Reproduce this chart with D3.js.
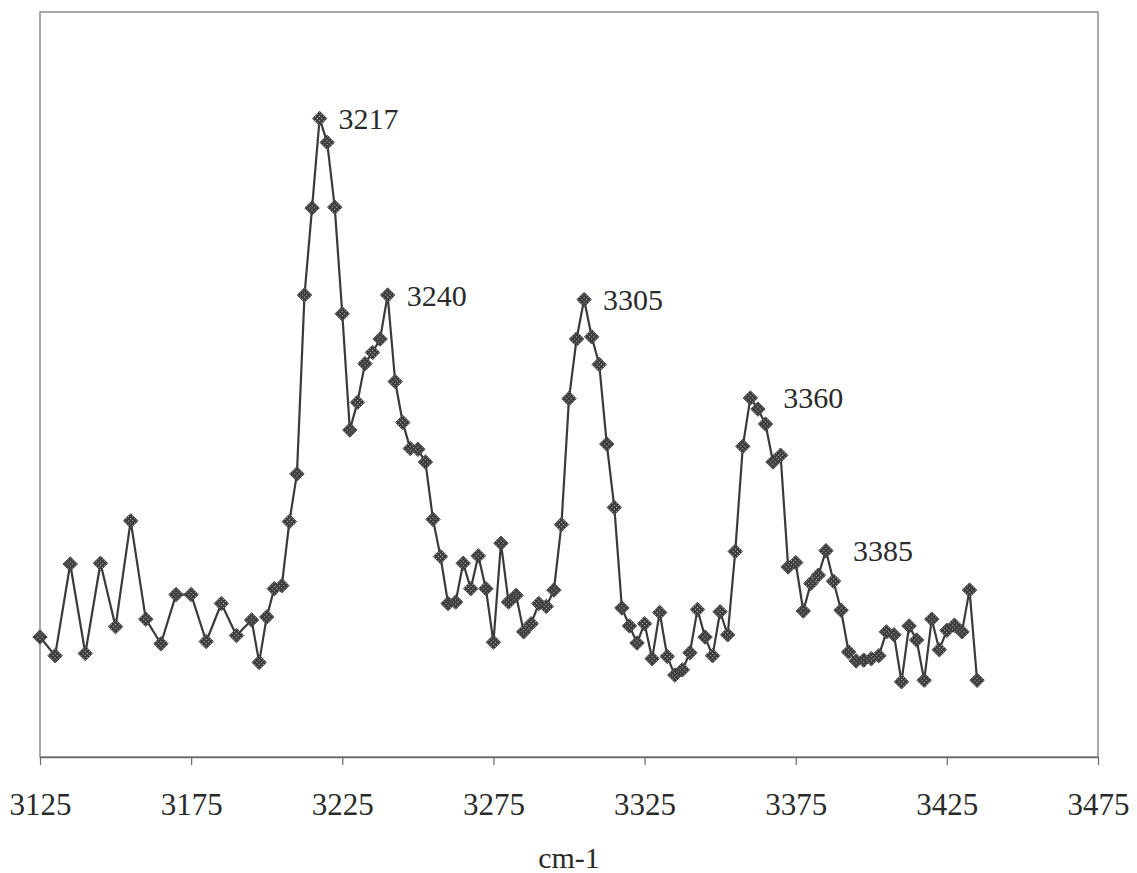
<!DOCTYPE html>
<html>
<head>
<meta charset="utf-8">
<script src="https://cdn.jsdelivr.net/npm/d3@7"></script>
<style>
  html, body { margin: 0; padding: 0; background: #fff; }
  svg { display: block; }
  text { font-family: "Liberation Serif", "Times New Roman", serif; fill: #2a2a2a; }
</style>
</head>
<body>
<svg id="chart" width="1137" height="873"></svg>
<script>
// Wavenumber (cm-1) of each sample
const wavenumbers = [
  3125, 3130, 3135, 3140, 3145, 3150, 3155, 3160, 3165, 3170, 3175, 3180, 3185, 3190, 3195,
  3197.5, 3200, 3202.5, 3205, 3207.5, 3210, 3212.5, 3215, 3217.5, 3220, 3222.5, 3225,
  3227.5, 3230, 3232.5, 3235, 3237.5, 3240, 3242.5, 3245, 3247.5, 3250, 3252.5, 3255,
  3257.5, 3260, 3262.5, 3265, 3267.5, 3270, 3272.5, 3275, 3277.5, 3280, 3282.5, 3285,
  3287.5, 3290, 3292.5, 3295, 3297.5, 3300, 3302.5, 3305, 3307.5, 3310, 3312.5, 3315,
  3317.5, 3320, 3322.5, 3325, 3327.5, 3330, 3332.5, 3335, 3337.5, 3340, 3342.5, 3345,
  3347.5, 3350, 3352.5, 3355, 3357.5, 3360, 3362.5, 3365, 3367.5, 3370, 3372.5, 3375,
  3377.5, 3380, 3382.5, 3385, 3387.5, 3390, 3392.5, 3395, 3397.5, 3400, 3402.5, 3405,
  3407.5, 3410, 3412.5, 3415, 3417.5, 3420, 3422.5, 3425, 3427.5, 3430, 3432.5, 3435
];

// Signal intensity (arbitrary units)
const intensity = [
  16.1, 13.6, 25.9, 13.9, 26.0, 17.5, 31.7, 18.5, 15.2, 21.8, 21.8, 15.5, 20.6, 16.3, 18.4,
  12.7, 18.8, 22.6, 23.0, 31.6, 38.0, 62.0, 73.7, 85.7, 82.5, 73.8, 59.5,
  43.9, 47.6, 52.8, 54.3, 56.1, 62.0, 50.4, 44.9, 41.4, 41.3, 39.6, 31.9,
  26.9, 20.6, 20.8, 26.0, 22.6, 27.0, 22.6, 15.4, 28.7, 20.8, 21.7, 16.8,
  17.9, 20.6, 20.2, 22.4, 31.2, 48.1, 56.1, 61.4, 56.4, 52.7, 42.0, 33.5,
  20.0, 17.6, 15.3, 17.9, 13.2, 19.4, 13.5, 11.0, 11.7, 14.0, 19.8, 16.1,
  13.6, 19.5, 16.4, 27.6, 41.7, 48.2, 46.7, 44.7, 39.6, 40.5, 25.5,
  26.1, 19.6, 23.3, 24.4, 27.7, 23.6, 19.7, 14.1, 12.9, 13.0, 13.2, 13.6,
  16.8, 16.4, 10.1, 17.6, 15.7, 10.3, 18.5, 14.4, 17.0, 17.7, 16.8, 22.4, 10.3
];

// X axis tick values
const xTicks = [3125, 3175, 3225, 3275, 3325, 3375, 3425, 3475];

// Peak annotations: label text and index of the sample it marks
const peakLabels = ["3217", "3240", "3305", "3360", "3385"];
const peakIndex = [23, 32, 58, 80, 90];

const axisTitle = "cm-1";

// ---- layout ----
const plot = { left: 40, right: 1098, top: 12, bottom: 757 };
const svg = d3.select("#chart");

const x = d3.scaleLinear().domain([3125, 3475]).range([plot.left, plot.right]);
const y = d3.scaleLinear().domain([0, 100]).range([plot.bottom, plot.top]);

const points = wavenumbers.map((w, i) => ({ w, v: intensity[i] }));

// dotted fill used inside the diamond markers
const defs = svg.append("defs");
const pat = defs.append("pattern")
  .attr("id", "dotfill")
  .attr("patternUnits", "userSpaceOnUse")
  .attr("width", 3).attr("height", 3);
pat.append("rect").attr("width", 3).attr("height", 3).attr("fill", "#3c3c3c");
pat.append("rect").attr("x", 1).attr("y", 1).attr("width", 1).attr("height", 1).attr("fill", "#c8c8c8");

// plot frame
svg.append("rect")
  .attr("x", plot.left).attr("y", plot.top)
  .attr("width", plot.right - plot.left).attr("height", plot.bottom - plot.top)
  .attr("fill", "none").attr("stroke", "#7a7a7a").attr("stroke-width", 1.3);

// x axis
const xAxis = d3.axisBottom(x)
  .tickValues(xTicks)
  .tickFormat(d3.format("d"))
  .tickSizeInner(8).tickSizeOuter(0).tickPadding(28);

const gx = svg.append("g")
  .attr("transform", `translate(0,${plot.bottom})`)
  .call(xAxis);
gx.select(".domain").attr("stroke", "#6a6a6a").attr("stroke-width", 1.5);
gx.selectAll(".tick line").attr("stroke", "#6a6a6a").attr("stroke-width", 1.2);
gx.selectAll(".tick text")
  .attr("font-family", "Liberation Serif, Times New Roman, serif")
  .attr("font-size", 31)
  .attr("fill", "#2a2a2a");

// axis title
svg.append("text")
  .attr("x", (plot.left + plot.right) / 2)
  .attr("y", 868)
  .attr("text-anchor", "middle")
  .attr("font-size", 30)
  .text(axisTitle);

// spectrum line
const line = d3.line().x(d => x(d.w)).y(d => y(d.v));
svg.append("path")
  .datum(points)
  .attr("d", line)
  .attr("fill", "none")
  .attr("stroke", "#3a3a3a")
  .attr("stroke-width", 2.2)
  .attr("stroke-linejoin", "round");

// diamond markers
const diamond = d3.symbol().type(d3.symbolSquare).size(105);
svg.append("g").selectAll("path")
  .data(points)
  .join("path")
  .attr("d", diamond)
  .attr("transform", d => `translate(${x(d.w)},${y(d.v)}) rotate(45)`)
  .attr("fill", "url(#dotfill)")
  .attr("stroke", "#333")
  .attr("stroke-width", 0.8);

// peak labels
const labelDx = [19, 19, 19, 33, 27];
svg.append("g").selectAll("text")
  .data(peakLabels)
  .join("text")
  .attr("x", (t, i) => x(wavenumbers[peakIndex[i]]) + labelDx[i])
  .attr("y", (t, i) => y(intensity[peakIndex[i]]))
  .attr("dy", "0.35em")
  .attr("font-size", 30)
  .text(t => t);
</script>
</body>
</html>
